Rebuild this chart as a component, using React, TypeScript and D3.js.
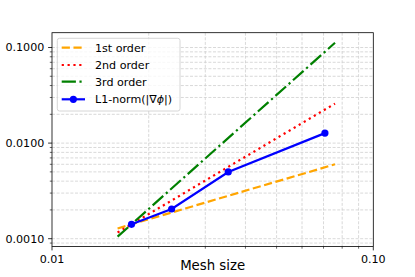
import React from "react";
import * as d3 from "d3";

const meshSizes = [0.01768, 0.02357, 0.03536, 0.07071];
const l1Norm = [0.001414, 0.002046, 0.00499, 0.01272];
const refMesh = [0.016, 0.076];
const firstOrder = [0.00128, 0.006];
const secondOrder = [0.00116, 0.0259];
const thirdOrder = [0.00105, 0.112];
const xTickValues = [0.01, 0.1];
const xTickLabels = ["0.01", "0.10"];
const yTickValues = [0.001, 0.01, 0.1];
const yTickLabels = ["0.0010", "0.0100", "0.1000"];
const legendLabels = ["1st order", "2nd order", "3rd order", "L1-norm(|∇ϕ|)"];

const W = 415, H = 277;
const L = 52, R = 373.3, T = 32.7, B = 246.5;
const FONT = "DejaVu Sans, sans-serif";

export default function App() {
  const x = d3.scaleLog().domain([0.01, 0.1]).range([L, R]);
  const yDecade = 95.6;
  const y0 = 238.7; // pixel of 0.001
  const y = d3
    .scaleLog()
    .domain([Math.pow(10, -3 - (B - y0) / yDecade), Math.pow(10, -3 + (y0 - T) / yDecade)])
    .range([B, T]);

  const xMinor: number[] = [];
  for (let k = 2; k <= 9; k++) xMinor.push(k * 0.01);
  const yMinor: number[] = [];
  [0.0001, 0.001, 0.01, 0.1].forEach((d) => {
    for (let k = 2; k <= 9; k++) {
      const v = k * d;
      const [lo, hi] = y.domain();
      if (v > lo && v < hi) yMinor.push(v);
    }
  });
  const [ylo, yhi] = y.domain();
  const yMajor = yTickValues.filter((v) => v >= ylo && v <= yhi);

  const line = d3
    .line<[number, number]>()
    .x((d) => x(d[0]))
    .y((d) => y(d[1]));

  const LW = 2.2;
  const refs = [
    { vals: firstOrder, color: "orange", dash: "8.2,3.55" },
    { vals: secondOrder, color: "red", dash: "2.2,3.65" },
    { vals: thirdOrder, color: "green", dash: "14.2,3.55,2.2,3.55" },
  ];

  const gridColor = "#cfcfcf";
  const gridDash = "3,1.6";

  const legX = 57.3, legY = 38.3, legW = 122.7, legH = 72.7;
  const rowY = [47.7, 65, 81.7, 99.3];

  return (
    <svg
      width={W}
      height={H}
      style={{ position: "absolute", left: 0, top: 0, fontFamily: FONT }}
    >
      <rect x={0} y={0} width={W} height={H} fill="white" />
      {/* grid */}
      <g stroke={gridColor} strokeWidth={0.8} strokeDasharray={gridDash} fill="none">
        {xMinor.map((v) => (
          <line key={"gx" + v} x1={x(v)} x2={x(v)} y1={T} y2={B} />
        ))}
        {yMinor.concat(yMajor).map((v) => (
          <line key={"gy" + v} x1={L} x2={R} y1={y(v)} y2={y(v)} />
        ))}
      </g>
      {/* reference lines */}
      {refs.map((r, i) => (
        <path
          key={i}
          d={line(refMesh.map((h, j) => [h, r.vals[j]] as [number, number])) || ""}
          fill="none"
          stroke={r.color}
          strokeWidth={LW}
          strokeDasharray={r.dash}
        />
      ))}
      {/* data */}
      <path
        d={line(meshSizes.map((h, j) => [h, l1Norm[j]] as [number, number])) || ""}
        fill="none"
        stroke="blue"
        strokeWidth={LW}
      />
      {meshSizes.map((h, j) => (
        <circle key={j} cx={x(h)} cy={y(l1Norm[j])} r={3.6} fill="blue" />
      ))}
      {/* spines */}
      <rect x={L} y={T} width={R - L} height={B - T} fill="none" stroke="black" strokeWidth={0.8} />
      {/* ticks */}
      <g stroke="black" strokeWidth={0.8}>
        {xTickValues.map((v) => (
          <line key={"xt" + v} x1={x(v)} x2={x(v)} y1={B} y2={B + 3.9} />
        ))}
        {xMinor.map((v) => (
          <line key={"xm" + v} x1={x(v)} x2={x(v)} y1={B} y2={B + 2.2} strokeWidth={0.6} />
        ))}
        {yMajor.map((v) => (
          <line key={"yt" + v} x1={L} x2={L - 3.9} y1={y(v)} y2={y(v)} />
        ))}
        {yMinor.map((v) => (
          <line key={"ym" + v} x1={L} x2={L - 2.2} y1={y(v)} y2={y(v)} strokeWidth={0.6} />
        ))}
      </g>
      <g fontSize={11.1} fill="black">
        {xTickValues.map((v, i) => (
          <text key={"xl" + v} x={x(v)} y={263} textAnchor="middle">
            {xTickLabels[i]}
          </text>
        ))}
        {yTickValues.map((v, i) => (
          <text key={"yl" + v} x={44.3} y={y(v)} dy="0.36em" textAnchor="end">
            {yTickLabels[i]}
          </text>
        ))}
      </g>
      <text x={(L + R) / 2} y={269.7} fontSize={13.3} textAnchor="middle">
        Mesh size
      </text>
      {/* legend */}
      <rect
        x={legX}
        y={legY}
        width={legW}
        height={legH}
        rx={2.2}
        fill="white"
        fillOpacity={0.8}
        stroke="#cccccc"
        strokeWidth={0.8}
      />
      {refs.map((r, i) => (
        <line
          key={"lh" + i}
          x1={61.7}
          x2={85}
          y1={rowY[i]}
          y2={rowY[i]}
          stroke={r.color}
          strokeWidth={LW}
          strokeDasharray={r.dash}
        />
      ))}
      <line x1={61.7} x2={85} y1={rowY[3]} y2={rowY[3]} stroke="blue" strokeWidth={LW} />
      <circle cx={73.35} cy={rowY[3]} r={3.6} fill="blue" />
      <g fontSize={11.1} fill="black">
        {legendLabels.map((t, i) =>
          i < 3 ? (
            <text key={"lt" + i} x={95} y={rowY[i]} dy="0.36em">
              {t}
            </text>
          ) : (
            <text key={"lt" + i} x={95} y={rowY[i]} dy="0.36em">
              {t.slice(0, t.indexOf("ϕ"))}
              <tspan fontStyle="italic">ϕ</tspan>
              {t.slice(t.indexOf("ϕ") + 1)}
            </text>
          )
        )}
      </g>
    </svg>
  );
}
